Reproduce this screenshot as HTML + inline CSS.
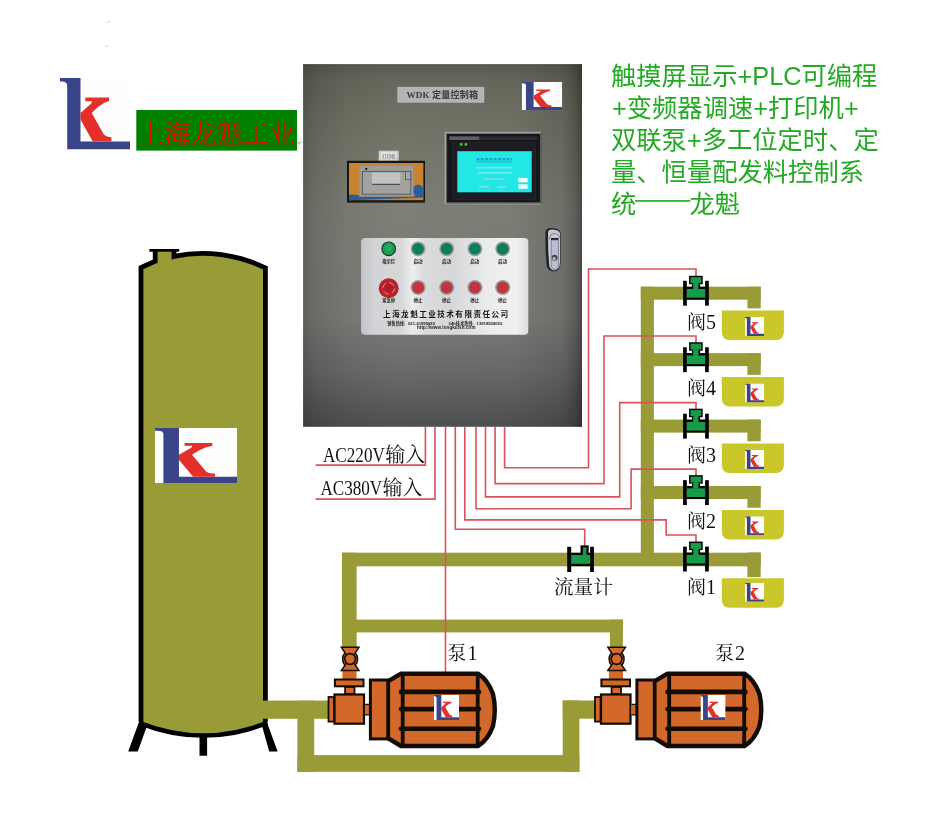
<!DOCTYPE html>
<html><head><meta charset="utf-8"><title>diagram</title>
<style>html,body{margin:0;padding:0;background:#fff;font-family:"Liberation Sans",sans-serif}svg{display:block}</style>
</head><body>
<svg width="943" height="822" viewBox="0 0 943 822">
<defs>
<symbol id="lk" viewBox="0 0 70.2 71.6" preserveAspectRatio="none">
<rect x="0" y="0" width="70.2" height="71.6" fill="#fefefe"/>
<path d="M0 0H20.5V63.4H70.2V71.6H7.2V8Q7.2 3.6 2 3.6H0Z" fill="#3a4488"/>
<path d="M25.3 19.4H49.1V23Q43 24.5 38 29 34.3 32.3 31.7 34.9L43.6 56.1Q45.5 59.2 51.4 59.2V63.4H32.7L20.5 41.6V34.9L30.7 26.1Q32 24.5 32 23.2H25.3Z" fill="#e3302b"/>
</symbol>
<linearGradient id="boxv" x1="0" y1="0" x2="0" y2="1">
<stop offset="0" stop-color="#595b51"/><stop offset="0.04" stop-color="#65675b"/><stop offset="0.13" stop-color="#6e7063"/><stop offset="0.25" stop-color="#75776b"/><stop offset="0.4" stop-color="#7d7f76"/><stop offset="0.7" stop-color="#7b7d79"/><stop offset="0.85" stop-color="#686a69"/><stop offset="1" stop-color="#4e504f"/>
</linearGradient>
<linearGradient id="boxh" x1="0" y1="0" x2="1" y2="0">
<stop offset="0" stop-color="#000" stop-opacity="0.24"/><stop offset="0.04" stop-color="#000" stop-opacity="0.14"/><stop offset="0.16" stop-color="#000" stop-opacity="0.05"/><stop offset="0.32" stop-color="#000" stop-opacity="0"/><stop offset="0.75" stop-color="#000" stop-opacity="0.02"/><stop offset="0.93" stop-color="#000" stop-opacity="0.12"/><stop offset="0.975" stop-color="#000" stop-opacity="0.26"/><stop offset="1" stop-color="#000" stop-opacity="0.42"/>
</linearGradient>
<linearGradient id="plate" x1="0" y1="0" x2="1" y2="0">
<stop offset="0" stop-color="#c3c4c8"/><stop offset="0.08" stop-color="#d2d3d5"/><stop offset="0.24" stop-color="#d6d7d8"/><stop offset="0.31" stop-color="#eeeeef"/><stop offset="0.38" stop-color="#dadbdc"/><stop offset="0.55" stop-color="#d6d7d9"/><stop offset="0.75" stop-color="#eaebec"/><stop offset="0.93" stop-color="#f1f1f2"/><stop offset="1" stop-color="#dcdddf"/>
</linearGradient>
<filter id="b3" x="-5%" y="-5%" width="110%" height="110%"><feGaussianBlur stdDeviation="0.45"/></filter>
<filter id="b6" x="-5%" y="-5%" width="110%" height="110%"><feGaussianBlur stdDeviation="0.7"/></filter>
<filter id="b2" x="-5%" y="-5%" width="110%" height="110%"><feGaussianBlur stdDeviation="0.3"/></filter>
</defs>
<rect width="943" height="822" fill="#fff"/>

<path d="M107 23l3-2M105 47l3-2" stroke="#bbb" stroke-width="0.8" fill="none"/>
<use href="#lk" x="60" y="78" width="70.2" height="71.6"/>
<rect x="136.3" y="110" width="160.7" height="40.6" fill="#008000"/>
<g filter="url(#b2)"><text x="138" y="143.3" font-size="26.2" fill="#ff0000" font-family="'Liberation Serif','Noto Serif CJK SC',serif">上海龙魁工业</text><rect x="137.6" y="143.2" width="157.4" height="1" fill="#ff0000" opacity="0.8"/></g>
<path d="M301 140.5v2.5h-3.5m1.5-1.5l-1.5 1.5 1.5 1.5" stroke="#999" stroke-width="0.7" fill="none"/>
<g>
<rect x="303.1" y="64.1" width="278.9" height="362.7" fill="url(#boxv)"/>
<rect x="303.1" y="64.1" width="278.9" height="362.7" fill="url(#boxh)"/>
<g filter="url(#b3)">
<rect x="397.8" y="87.2" width="86.1" height="15" fill="#b2b4b8" stroke="#c6c8cb" stroke-width="0.6"/>
<text x="406.6" y="98.2" font-size="9.1" font-weight="bold" fill="#3a3a3c" textLength="71.5" font-family="'Liberation Serif','Noto Sans CJK SC',serif">WDK 定量控制箱</text>
<use href="#lk" x="521.8" y="81.9" width="40.4" height="28.3"/>
<rect x="378.7" y="150.7" width="19.9" height="10.1" fill="#cfcfcf"/>
<rect x="381" y="152.3" width="15.3" height="6.9" fill="#e6e6e6"/>
<text x="382" y="157.6" font-size="4.5" fill="#555" font-family="'Liberation Sans','Noto Sans CJK SC',sans-serif">打印机</text>
<rect x="347" y="160.8" width="78" height="41.8" fill="#121416"/>
<rect x="349" y="163" width="74.4" height="37.2" fill="#c9832d"/>
<path d="M349 194.6Q354 194.2 359.5 195.4V196.6H413.4Q416.5 196.6 419 195.6L423.4 193.5V197.4L349 200.2Z" fill="#2b5c96"/>
<ellipse cx="418.3" cy="190.8" rx="5.3" ry="6.4" fill="#2b5d9a"/>
<rect x="359.5" y="165.9" width="53.9" height="30.7" fill="#9c9d9a"/>
<rect x="362.4" y="171.5" width="48.4" height="22.7" fill="#a2a3a0" stroke="#56575a" stroke-width="0.9"/>
<rect x="372.1" y="172.6" width="28.2" height="11.2" fill="#c2c2c0"/>
<path d="M372.1 184.4H400.3" stroke="#4c4d50" stroke-width="1.2"/>
<rect x="405.6" y="171.5" width="5.2" height="8.2" fill="#a8a9a7" stroke="#56575a" stroke-width="0.8"/>
<circle cx="366.3" cy="168.9" r="1.1" fill="#111"/>
<rect x="444.2" y="131.6" width="98" height="73.6" fill="#5c5e59"/><path d="M445.2 204.6V132.5H541" stroke="#a2a4a0" stroke-width="1.6" fill="none"/><path d="M446 204.3H541.6" stroke="#8c8e8a" stroke-width="1.4" fill="none"/>
<rect x="447.1" y="134" width="92.9" height="68.2" fill="#15171a"/>
<rect x="449.5" y="136.4" width="30" height="3.6" fill="#5d6064"/><rect x="479.5" y="136.4" width="58" height="3.6" fill="#2a2d31"/>
<rect x="452.8" y="142.7" width="82.7" height="56.6" fill="#1b1e22" stroke="#2e3136" stroke-width="0.6"/>
<rect x="457.3" y="151.2" width="74.4" height="41.1" fill="#20e7e4"/>
<rect x="459.9" y="143.2" width="2.6" height="2.4" fill="#3fd43f"/><rect x="464.6" y="143.2" width="2.6" height="2.4" fill="#3fd43f"/>
<rect x="518.4" y="177.9" width="9.2" height="4.4" fill="#f4ffff"/><rect x="518.4" y="184.3" width="9.2" height="4.4" fill="#f4ffff"/>
<g filter="url(#b6)"><path d="M476.5 159.3H512" stroke="#1878c6" stroke-width="2.6" stroke-dasharray="3 1.3" opacity="0.62"/><path d="M476 162H512.5" stroke="#1c80cc" stroke-width="0.7" opacity="0.8"/><rect x="476" y="167" width="36" height="1.6" fill="#79f0ee" opacity="0.7"/><rect x="478" y="172" width="34" height="1.8" fill="#7df2f0" opacity="0.7"/><rect x="483" y="178" width="21" height="1.6" fill="#6de0e6"/><rect x="479" y="186" width="10" height="1.6" fill="#6fe6e8"/><rect x="497" y="186" width="9" height="1.6" fill="#6fe6e8"/></g>
<path d="M545.4 232.5Q545.4 227.6 552 227.9 560 228.4 560.5 233V262Q560.5 271.6 554 271.6 548.2 271.2 546.6 266Q545.2 250 545.4 232.5Z" fill="#222326"/>
<path d="M548 232.5Q548 229.2 552.6 229.4 559.6 229.7 560 233.6V262Q559.8 270.4 554.3 270.4 550.2 270 549.2 265.5Q547.8 250 548 232.5Z" fill="#c6c9d5"/>
<path d="M549.6 239.5Q549.6 233.4 554.6 233.6 559.2 233.8 559.4 238" stroke="#70748a" stroke-width="0.9" fill="none"/>
<path d="M551.2 240V266Q551.6 269.6 554.8 269.6 558 269.6 558.4 266V240Z" fill="#bbbecd" stroke="#6c7086" stroke-width="0.7"/>
<rect x="551" y="238" width="7.6" height="1.8" fill="#1c1d20"/>
<circle cx="554.6" cy="257.8" r="3" fill="#4a4b50"/><circle cx="554.2" cy="258.6" r="1.7" fill="#b4b5ba"/>
<rect x="361.1" y="238.1" width="167.2" height="96.7" rx="4" fill="url(#plate)"/>
<circle cx="388.7" cy="248.8" r="7.4" fill="#1d3a2a"/><circle cx="388.7" cy="248.8" r="6.2" fill="#1a9c50"/><circle cx="388.7" cy="247.8" r="3.2" fill="#2bb364" opacity="0.7"/>
<circle cx="418.1" cy="248.8" r="7.4" fill="#9a9d9c"/><circle cx="418.1" cy="248.8" r="5.9" fill="#0d7e5c"/>
<circle cx="446.7" cy="248.8" r="7.4" fill="#9a9d9c"/><circle cx="446.7" cy="248.8" r="5.9" fill="#0d7e5c"/>
<circle cx="474.9" cy="248.8" r="7.4" fill="#9a9d9c"/><circle cx="474.9" cy="248.8" r="5.9" fill="#0d7e5c"/>
<circle cx="502.7" cy="248.8" r="7.4" fill="#9a9d9c"/><circle cx="502.7" cy="248.8" r="5.9" fill="#0d7e5c"/>
<circle cx="388.7" cy="288.3" r="10" fill="#b9232b"/><circle cx="388.7" cy="288.3" r="5.8" fill="none" stroke="#e6a6a6" stroke-width="1" stroke-dasharray="5.5 3.6" opacity="0.8"/><circle cx="388.7" cy="288.3" r="3.8" fill="#ad1e26"/>
<circle cx="418.1" cy="287.5" r="7.6" fill="#9a9c9e"/><circle cx="418.1" cy="287.5" r="6" fill="#c2343e"/>
<circle cx="446.7" cy="287.5" r="7.6" fill="#9a9c9e"/><circle cx="446.7" cy="287.5" r="6" fill="#c2343e"/>
<circle cx="474.9" cy="287.5" r="7.6" fill="#9a9c9e"/><circle cx="474.9" cy="287.5" r="6" fill="#c2343e"/>
<circle cx="502.7" cy="287.5" r="7.6" fill="#9a9c9e"/><circle cx="502.7" cy="287.5" r="6" fill="#c2343e"/>
<g font-family="'Liberation Sans','Noto Sans CJK SC',sans-serif" font-weight="bold" fill="#1a1a1a">
<text x="382.2" y="263.4" font-size="4.3">指示灯</text>
<text x="413.4" y="263.4" font-size="4.6">启动</text>
<text x="442" y="263.4" font-size="4.6">启动</text>
<text x="470.2" y="263.4" font-size="4.6">启动</text>
<text x="498" y="263.4" font-size="4.6">启动</text>
<text x="382.2" y="301.6" font-size="4.3">紧急停</text>
<text x="413.4" y="301.6" font-size="4.6">停止</text>
<text x="442" y="301.6" font-size="4.6">停止</text>
<text x="470.2" y="301.6" font-size="4.6">停止</text>
<text x="498" y="301.6" font-size="4.6">停止</text>
</g>
<text x="383" y="317.4" font-size="7.6" font-weight="bold" letter-spacing="1.45" fill="#151515" font-family="'Liberation Sans','Noto Sans CJK SC',sans-serif">上海龙魁工业技术有限责任公司</text>
<g font-family="'Liberation Sans','Noto Sans CJK SC',sans-serif" font-weight="bold" fill="#1c1c1c">
<text x="387.3" y="324.6" font-size="4.2">销售热线:<tspan x="408" >021-61995682</tspan></text>
<text x="448.6" y="324.6" font-size="4.2">24h技术热线:<tspan x="476.6">13918558055</tspan></text>
<text x="417" y="328.9" font-size="4.5" textLength="58.4">http://www.longkuish.com</text>
</g>
</g></g>
<g font-family="'Liberation Sans','Noto Sans CJK SC',sans-serif" font-size="25.3" fill="#22aa22">
<text x="611" y="84.5">触摸屏显示+PLC可编程</text>
<text x="612" y="116.7">+变频器调速+打印机+</text>
<text x="611" y="148.9">双联泵+多工位定时、定</text>
<text x="611" y="181.1">量、恒量配发料控制系</text>
<text x="611" y="213.2">统</text>
<text x="689.5" y="213.2">龙魁</text>
</g>
<rect x="635" y="200.1" width="55.4" height="1.6" fill="#22aa22"/>
<path d="M141 267.6L155.2 261.2V250.4H174V256.2Q205 249 241 258.5 254 262 265.4 267.5V722Q204 748 141 722Z" fill="#999b37"/>
<path d="M141 722V267.6L155.2 261.2V251M174 251V256.4Q206 249.2 241 258.6 254 262.2 265.4 267.8V701M265.4 718V722" fill="none" stroke="#000" stroke-width="4.8" stroke-linejoin="miter"/>
<path d="M139 722.8Q203.5 748.3 267.4 722.8" fill="none" stroke="#000" stroke-width="4.6"/>
<rect x="149.4" y="249" width="29.8" height="2.7" fill="#000"/>
<path d="M138.6 723H148L137.8 751.4H128.2Z M199.5 734H207.1V755.7H199.5Z M261.2 723H267.2L277.6 751.4H269.2Z" fill="#000"/>
<use href="#lk" x="155" y="428" width="82" height="55.1"/>
<g>
<rect x="263.2" y="700.6" width="65.8" height="18.2" fill="#999b37"/>
<rect x="297.4" y="700.6" width="16.8" height="71.2" fill="#999b37"/>
<rect x="297.4" y="755.1" width="282" height="16.7" fill="#999b37"/>
<rect x="562.7" y="700.5" width="16.7" height="71.3" fill="#999b37"/>
<rect x="562.7" y="700.5" width="33.8" height="18.2" fill="#999b37"/>
<rect x="342" y="552.7" width="14.6" height="94.8" fill="#999b37"/>
<rect x="342" y="619.6" width="280.9" height="12.8" fill="#999b37"/>
<rect x="610" y="619.6" width="12.9" height="27.9" fill="#999b37"/>
<rect x="640.8" y="286.7" width="13.1" height="279.3" fill="#999b37"/>
<rect x="342" y="552.7" width="418.7" height="13.6" fill="#999b37"/>
<rect x="640.8" y="286.7" width="119.9" height="13" fill="#999b37"/>
<rect x="747.4" y="286.7" width="13.3" height="21.7" fill="#999b37"/>
<rect x="640.8" y="353.15" width="119.9" height="13" fill="#999b37"/>
<rect x="747.4" y="353.15" width="13.3" height="21.7" fill="#999b37"/>
<rect x="640.8" y="419.6" width="119.9" height="13" fill="#999b37"/>
<rect x="747.4" y="419.6" width="13.3" height="21.7" fill="#999b37"/>
<rect x="640.8" y="486.05" width="119.9" height="13" fill="#999b37"/>
<rect x="747.4" y="486.05" width="13.3" height="21.7" fill="#999b37"/>
<rect x="747.4" y="552.5" width="13.3" height="24.7" fill="#999b37"/>
</g>
<path d="M721.8 310.6 H783.9 V331.6 Q783.9 340.1 776 340.1 H729.7 Q721.8 340.1 721.8 331.6 Z" fill="#c9c72a"/>
<use href="#lk" x="744.9" y="317" width="19.2" height="19"/>
<path d="M721.8 377.05 H783.9 V398.05 Q783.9 406.55 776 406.55 H729.7 Q721.8 406.55 721.8 398.05 Z" fill="#c9c72a"/>
<use href="#lk" x="744.9" y="383.45" width="19.2" height="19"/>
<path d="M721.8 443.5 H783.9 V464.5 Q783.9 473 776 473 H729.7 Q721.8 473 721.8 464.5 Z" fill="#c9c72a"/>
<use href="#lk" x="744.9" y="449.9" width="19.2" height="19"/>
<path d="M721.8 509.95 H783.9 V530.95 Q783.9 539.45 776 539.45 H729.7 Q721.8 539.45 721.8 530.95 Z" fill="#c9c72a"/>
<use href="#lk" x="744.9" y="516.35" width="19.2" height="19"/>
<path d="M721.8 578.3 H783.9 V599.3 Q783.9 607.8 776 607.8 H729.7 Q721.8 607.8 721.8 599.3 Z" fill="#c9c72a"/>
<use href="#lk" x="744.9" y="582.8" width="19.2" height="19"/>
<path d="M425.4 427V465.1H315.6M435 427V499.1H315.6M445.5 427V673M455.3 427V529.3H584.7V546M464.8 427V519.9H666.2V535H696V544M476 427V508.8H631.1V469.1H696V477.5M485.5 427V496.9H619.7V402.6H696V411M495.1 427V483.6H604V336H696V344.5M504.6 427V467.7H588.5V269H696V276.5" fill="none" stroke="#da525a" stroke-width="1.6"/>
<rect x="683.1" y="280.8" width="3.7" height="24.9" fill="#000"/><rect x="705.1" y="280.8" width="3.7" height="24.9" fill="#000"/><rect x="686.8" y="286.7" width="18.4" height="13" fill="#000"/><rect x="689.1" y="275.8" width="13.6" height="8.5" fill="#000"/><rect x="691.9" y="284.2" width="8.2" height="3" fill="#000"/><rect x="686.8" y="289" width="18.4" height="8.7" fill="#169b48"/><rect x="693.2" y="282.9" width="5.3" height="6.5" fill="#169b48"/><rect x="690.5" y="277.2" width="10.8" height="5.9" fill="#169b48"/>
<rect x="683.1" y="347.25" width="3.7" height="24.9" fill="#000"/><rect x="705.1" y="347.25" width="3.7" height="24.9" fill="#000"/><rect x="686.8" y="353.15" width="18.4" height="13" fill="#000"/><rect x="689.1" y="342.25" width="13.6" height="8.5" fill="#000"/><rect x="691.9" y="350.65" width="8.2" height="3" fill="#000"/><rect x="686.8" y="355.45" width="18.4" height="8.7" fill="#169b48"/><rect x="693.2" y="349.35" width="5.3" height="6.5" fill="#169b48"/><rect x="690.5" y="343.65" width="10.8" height="5.9" fill="#169b48"/>
<rect x="683.1" y="413.7" width="3.7" height="24.9" fill="#000"/><rect x="705.1" y="413.7" width="3.7" height="24.9" fill="#000"/><rect x="686.8" y="419.6" width="18.4" height="13" fill="#000"/><rect x="689.1" y="408.7" width="13.6" height="8.5" fill="#000"/><rect x="691.9" y="417.1" width="8.2" height="3" fill="#000"/><rect x="686.8" y="421.9" width="18.4" height="8.7" fill="#169b48"/><rect x="693.2" y="415.8" width="5.3" height="6.5" fill="#169b48"/><rect x="690.5" y="410.1" width="10.8" height="5.9" fill="#169b48"/>
<rect x="683.1" y="480.15" width="3.7" height="24.9" fill="#000"/><rect x="705.1" y="480.15" width="3.7" height="24.9" fill="#000"/><rect x="686.8" y="486.05" width="18.4" height="13" fill="#000"/><rect x="689.1" y="475.15" width="13.6" height="8.5" fill="#000"/><rect x="691.9" y="483.55" width="8.2" height="3" fill="#000"/><rect x="686.8" y="488.35" width="18.4" height="8.7" fill="#169b48"/><rect x="693.2" y="482.25" width="5.3" height="6.5" fill="#169b48"/><rect x="690.5" y="476.55" width="10.8" height="5.9" fill="#169b48"/>
<rect x="683.1" y="546.6" width="3.7" height="24.9" fill="#000"/><rect x="705.1" y="546.6" width="3.7" height="24.9" fill="#000"/><rect x="686.8" y="552.5" width="18.4" height="13" fill="#000"/><rect x="689.1" y="541.6" width="13.6" height="8.5" fill="#000"/><rect x="691.9" y="550" width="8.2" height="3" fill="#000"/><rect x="686.8" y="554.8" width="18.4" height="8.7" fill="#169b48"/><rect x="693.2" y="548.7" width="5.3" height="6.5" fill="#169b48"/><rect x="690.5" y="543" width="10.8" height="5.9" fill="#169b48"/>
<rect x="567.2" y="546.8" width="4" height="25.2" fill="#000"/><rect x="590.1" y="546.8" width="3.8" height="25.2" fill="#000"/>
<rect x="571.2" y="552.8" width="18.9" height="13.4" fill="#000"/>
<rect x="580.5" y="545.4" width="8.2" height="8" fill="#000"/>
<rect x="571.2" y="555" width="18.9" height="8.8" fill="#169b48"/>
<rect x="582.9" y="547.3" width="3.6" height="8" fill="#169b48"/>
<g transform="translate(0 0)"><rect x="342.4" y="670" width="14.1" height="9" fill="#d2692a"/><path d="M341.4 647.3H358.9L355.3 652.8Q357.6 655.8 357.6 659 357.6 662.4 355.3 665.2L358.9 670.4H341.4L345 665.2Q342.6 662.4 342.6 659 342.6 655.8 345 652.8Z" fill="#d2692a" stroke="#120c06" stroke-width="1.5" stroke-linejoin="miter"/><path d="M345.5 653.5L354.8 664.6M354.8 653.5L345.5 664.6" stroke="#120c06" stroke-width="1.2"/><circle cx="350.1" cy="659" r="5.4" fill="#d2692a" stroke="#120c06" stroke-width="1.6"/><rect x="334.9" y="679.5" width="28.6" height="6.8" fill="#d2692a" stroke="#120c06" stroke-width="2"/><rect x="345.1" y="687" width="9.4" height="7" fill="#d2692a" stroke="#120c06" stroke-width="1.8"/><rect x="328.5" y="697" width="5.6" height="24.6" fill="#d2692a" stroke="#120c06" stroke-width="1.8"/><rect x="334.5" y="694.5" width="29.5" height="29.2" fill="#d2692a" stroke="#120c06" stroke-width="2.2"/><rect x="365" y="704.4" width="4.6" height="10.4" fill="#d2692a"/><path d="M365 704.4H369.6M365 714.8H369.6" stroke="#120c06" stroke-width="1.2"/><path d="M387.9 681.3L401 673.7H478Q488 680 493 694 496.6 709.8 493 726 488 740 478 746H401L387.9 738.1Z" fill="#d2692a" stroke="#120c06" stroke-width="4.4" stroke-linejoin="round"/><rect x="370.4" y="680" width="17.4" height="58.9" fill="#d2692a" stroke="#120c06" stroke-width="3"/><path d="M402.7 674V746M477.7 674V746" stroke="#120c06" stroke-width="3.8"/><path d="M401 691.9H479M401 709.1H479M401 728.8H479" stroke="#120c06" stroke-width="4.6" stroke-linecap="round"/><use href="#lk" x="434" y="694.9" width="25.1" height="25.1"/></g>
<g transform="translate(266.5 0)"><rect x="342.4" y="670" width="14.1" height="9" fill="#d2692a"/><path d="M341.4 647.3H358.9L355.3 652.8Q357.6 655.8 357.6 659 357.6 662.4 355.3 665.2L358.9 670.4H341.4L345 665.2Q342.6 662.4 342.6 659 342.6 655.8 345 652.8Z" fill="#d2692a" stroke="#120c06" stroke-width="1.5" stroke-linejoin="miter"/><path d="M345.5 653.5L354.8 664.6M354.8 653.5L345.5 664.6" stroke="#120c06" stroke-width="1.2"/><circle cx="350.1" cy="659" r="5.4" fill="#d2692a" stroke="#120c06" stroke-width="1.6"/><rect x="334.9" y="679.5" width="28.6" height="6.8" fill="#d2692a" stroke="#120c06" stroke-width="2"/><rect x="345.1" y="687" width="9.4" height="7" fill="#d2692a" stroke="#120c06" stroke-width="1.8"/><rect x="328.5" y="697" width="5.6" height="24.6" fill="#d2692a" stroke="#120c06" stroke-width="1.8"/><rect x="334.5" y="694.5" width="29.5" height="29.2" fill="#d2692a" stroke="#120c06" stroke-width="2.2"/><rect x="365" y="704.4" width="4.6" height="10.4" fill="#d2692a"/><path d="M365 704.4H369.6M365 714.8H369.6" stroke="#120c06" stroke-width="1.2"/><path d="M387.9 681.3L401 673.7H478Q488 680 493 694 496.6 709.8 493 726 488 740 478 746H401L387.9 738.1Z" fill="#d2692a" stroke="#120c06" stroke-width="4.4" stroke-linejoin="round"/><rect x="370.4" y="680" width="17.4" height="58.9" fill="#d2692a" stroke="#120c06" stroke-width="3"/><path d="M402.7 674V746M477.7 674V746" stroke="#120c06" stroke-width="3.8"/><path d="M401 691.9H479M401 709.1H479M401 728.8H479" stroke="#120c06" stroke-width="4.6" stroke-linecap="round"/><use href="#lk" x="434" y="694.9" width="25.1" height="25.1"/></g>
<g font-family="'Liberation Serif','Noto Serif CJK SC',serif" fill="#111" font-size="19">
<text x="687" y="328.7">阀<tspan x="706" font-size="20">5</tspan></text>
<text x="687" y="395.2">阀<tspan x="706" font-size="20">4</tspan></text>
<text x="687" y="461.6">阀<tspan x="706" font-size="20">3</tspan></text>
<text x="687" y="528">阀<tspan x="706" font-size="20">2</tspan></text>
<text x="687" y="594.4">阀<tspan x="706" font-size="20">1</tspan></text>
<text x="553.8" y="594.3" font-size="19.8">流量计</text>
<text x="447.2" y="660">泵<tspan x="467.5" font-size="20">1</tspan></text>
<text x="714.9" y="660">泵<tspan x="735" font-size="20">2</tspan></text>
<text y="462.4" font-size="20"><tspan x="323" textLength="61.8" lengthAdjust="spacingAndGlyphs">AC220V</tspan><tspan x="385.2">输入</tspan></text>
<text y="495.2" font-size="20"><tspan x="320.4" textLength="61.8" lengthAdjust="spacingAndGlyphs">AC380V</tspan><tspan x="382.6">输入</tspan></text>
</g>
</svg>
</body></html>
